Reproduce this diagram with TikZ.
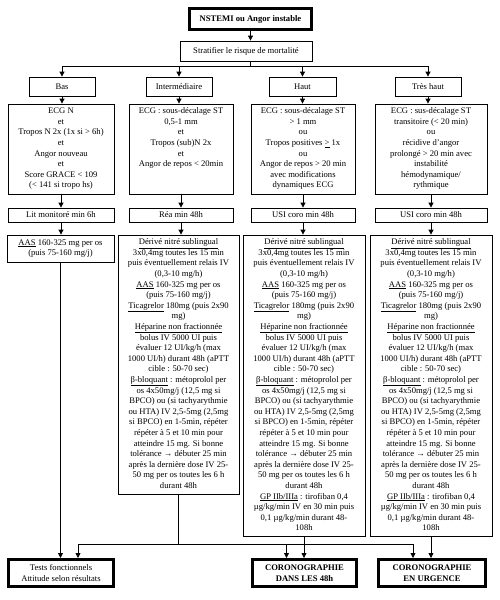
\documentclass[tikz,border=0pt]{standalone}
\usepackage{fontspec}
\setmainfont{Liberation Serif}
\usetikzlibrary{arrows.meta}
\newcommand{\tb}[3]{\parbox[c][#2][t]{#1}{\centering\vspace*{1.2pt}\strut #3}}
\newcommand{\trcommon}{\underline{Dérivé nitré sublingual}\\
3x0,4mg toutes les 15 min\\
puis éventuellement relais IV\\
(0,3-10 mg/h)\\
\underline{AAS} 160-325 mg per os\\
(puis 75-160 mg/j)\\
\underline{Ticagrelor} 180mg (puis 2x90\\
mg)\\
\underline{Héparine non fractionnée}\\
bolus IV 5000 UI puis\\
évaluer 12 UI/kg/h (max\\
1000 UI/h) durant 48h (aPTT\\
cible : 50-70 sec)\\
\underline{β-bloquant} : métoprolol per\\
os 4x50mg/j (12,5 mg si\\
BPCO) ou (si tachyarythmie\\
ou HTA) IV 2,5-5mg (2,5mg\\
si BPCO) en 1-5min, répéter\\
répéter à 5 et 10 min pour\\
atteindre 15 mg. Si bonne\\
tolérance → débuter 25 min\\
après la dernière dose IV 25-\\
50 mg per os toutes les 6 h\\
durant 48h}
\newcommand{\trgp}{\\
\underline{GP IIb/IIIa} : tirofiban 0,4\\
µg/kg/min IV en 30 min puis\\
0,1 µg/kg/min durant 48-\\
108h}
\begin{document}
\begin{tikzpicture}[x=1pt,y=-1pt,
  every node/.style={font=\fontsize{8.6}{10.6}\selectfont},
  box/.style={draw, line width=0.8pt, inner sep=0pt, align=center},
  thickbox/.style={box, line width=3pt},
  arr/.style={line width=0.8pt, -{Triangle[length=5pt,width=5pt]}},
  ln/.style={line width=0.8pt}]
\useasboundingbox (0,0) rectangle (499,600);

% top
\node[thickbox, minimum width=122pt, minimum height=21pt, font=\fontsize{8.6}{10.6}\selectfont\bfseries] (top) at (250.5,19) {NSTEMI ou Angor instable};
\node[box, minimum width=132pt, minimum height=20pt] (strat) at (246,51) {Stratifier le risque de mortalité};

% levels
\node[box, minimum width=66pt, minimum height=19pt] (bas) at (62,86.5) {Bas};
\node[box, minimum width=66pt, minimum height=19pt] (inter) at (179,86.5) {Intermédiaire};
\node[box, minimum width=67pt, minimum height=19pt] (haut) at (302.5,86.5) {Haut};
\node[box, minimum width=66pt, minimum height=19pt] (th) at (428,86.5) {Très haut};

% criteria
\node[box, minimum width=106pt, minimum height=90pt] (crb) at (61,149) {\tb{104pt}{88pt}{ECG N\\ et\\ Tropos N 2x (1x si > 6h)\\ et\\ Angor nouveau\\ et\\ Score GRACE < 109\\ (< 141 si tropo hs)}};
\node[box, minimum width=104pt, minimum height=90pt] (cri) at (181,149) {\tb{102pt}{88pt}{ECG : sous-décalage ST\\ 0,5-1 mm\\ et\\ Tropos (sub)N 2x\\ et\\ Angor de repos < 20min}};
\node[box, minimum width=104pt, minimum height=90pt] (crh) at (303,149) {\tb{102pt}{88pt}{ECG : sous-décalage ST\\ > 1 mm\\ ou\\ Tropos positives \underline{>} 1x\\ ou\\ Angor de repos > 20 min\\ avec modifications\\ dynamiques ECG}};
\node[box, minimum width=112pt, minimum height=90pt] (crt) at (431,149) {\tb{110pt}{88pt}{ECG : sus-décalage ST\\ transitoire (< 20 min)\\ ou\\ récidive d'angor\\ prolongé > 20 min avec\\ instabilité\\ hémodynamique/\\ rythmique}};

% units
\node[box, minimum width=106pt, minimum height=14pt] (lit) at (61,215) {Lit monitoré min 6h};
\node[box, minimum width=104pt, minimum height=14pt] (rea) at (181,215) {Réa min 48h};
\node[box, minimum width=104pt, minimum height=14pt] (usi1) at (303,215) {USI coro min 48h};
\node[box, minimum width=112pt, minimum height=14pt] (usi2) at (431,215) {USI coro min 48h};

% treatments
\node[box, minimum width=107pt, minimum height=27pt] (aas) at (60.5,248.5) {\underline{AAS} 160-325 mg per os\\(puis 75-160 mg/j)};
\node[box, minimum width=121pt, minimum height=259pt] (tri) at (178.5,364.5) {\tb{119pt}{257pt}{\trcommon}};
\node[box, minimum width=122pt, minimum height=301pt] (trh) at (304,385.5) {\tb{120pt}{299pt}{\trcommon\trgp}};
\node[box, minimum width=122pt, minimum height=301pt] (trt) at (431,385.5) {\tb{120pt}{299pt}{\trcommon\trgp}};

% outcomes
\node[thickbox, minimum width=105pt, minimum height=27pt] (tests) at (61,573) {Tests fonctionnels\\Attitude selon résultats};
\node[thickbox, minimum width=104pt, minimum height=27pt, font=\fontsize{8.6}{10.6}\selectfont\bfseries] (c48) at (304.5,573) {CORONOGRAPHIE\\DANS LES 48h};
\node[thickbox, minimum width=107pt, minimum height=27pt, font=\fontsize{8.6}{10.6}\selectfont\bfseries] (curg) at (432,573) {CORONOGRAPHIE\\EN URGENCE};

% connectors top
\draw[arr] (top.south) -- (top.south |- strat.north);
\coordinate (hb) at (250.5,66);
\draw[ln] (hb |- strat.south) -- (hb);
\draw[ln] (bas.north |- hb) -- (th.north |- hb);
\foreach \n in {bas,inter,haut,th} \draw[arr] (\n.north |- hb) -- (\n.north);
\draw[arr] (bas.south) -- (bas.south |- crb.north);
\draw[arr] (inter.south) -- (inter.south |- cri.north);
\draw[arr] (haut.south) -- (haut.south |- crh.north);
\draw[arr] (th.south) -- (th.south |- crt.north);
\draw[arr] (crb.south) -- (lit.north);
\draw[arr] (cri.south) -- (rea.north);
\draw[arr] (crh.south) -- (usi1.north);
\draw[arr] (crt.south) -- (usi2.north);
\draw[arr] (lit.south) -- (lit.south |- aas.north);
\draw[arr] (rea.south) -- (rea.south |- tri.north);
\draw[arr] (usi1.south) -- (usi1.south |- trh.north);
\draw[arr] (usi2.south) -- (usi2.south |- trt.north);

% connectors bottom
\coordinate (hj) at (181,544);
\coordinate (ta) at ([xshift=17pt]tests.north);
\coordinate (ca) at ([xshift=-18pt]c48.north);
\coordinate (ua) at ([xshift=-19pt]curg.north);
\draw[arr] (aas.south) -- (aas.south |- tests.north);
\draw[ln] (tri.south) -- (tri.south |- hj);
\draw[ln] (ta |- hj) -- (ua |- hj);
\draw[arr] (ta |- hj) -- (ta);
\draw[arr] (ca |- hj) -- (ca);
\draw[arr] (ua |- hj) -- (ua);
\draw[arr] (trh.south) -- (trh.south |- c48.north);
\draw[arr] (trt.south) -- (trt.south |- curg.north);
\end{tikzpicture}
\end{document}
